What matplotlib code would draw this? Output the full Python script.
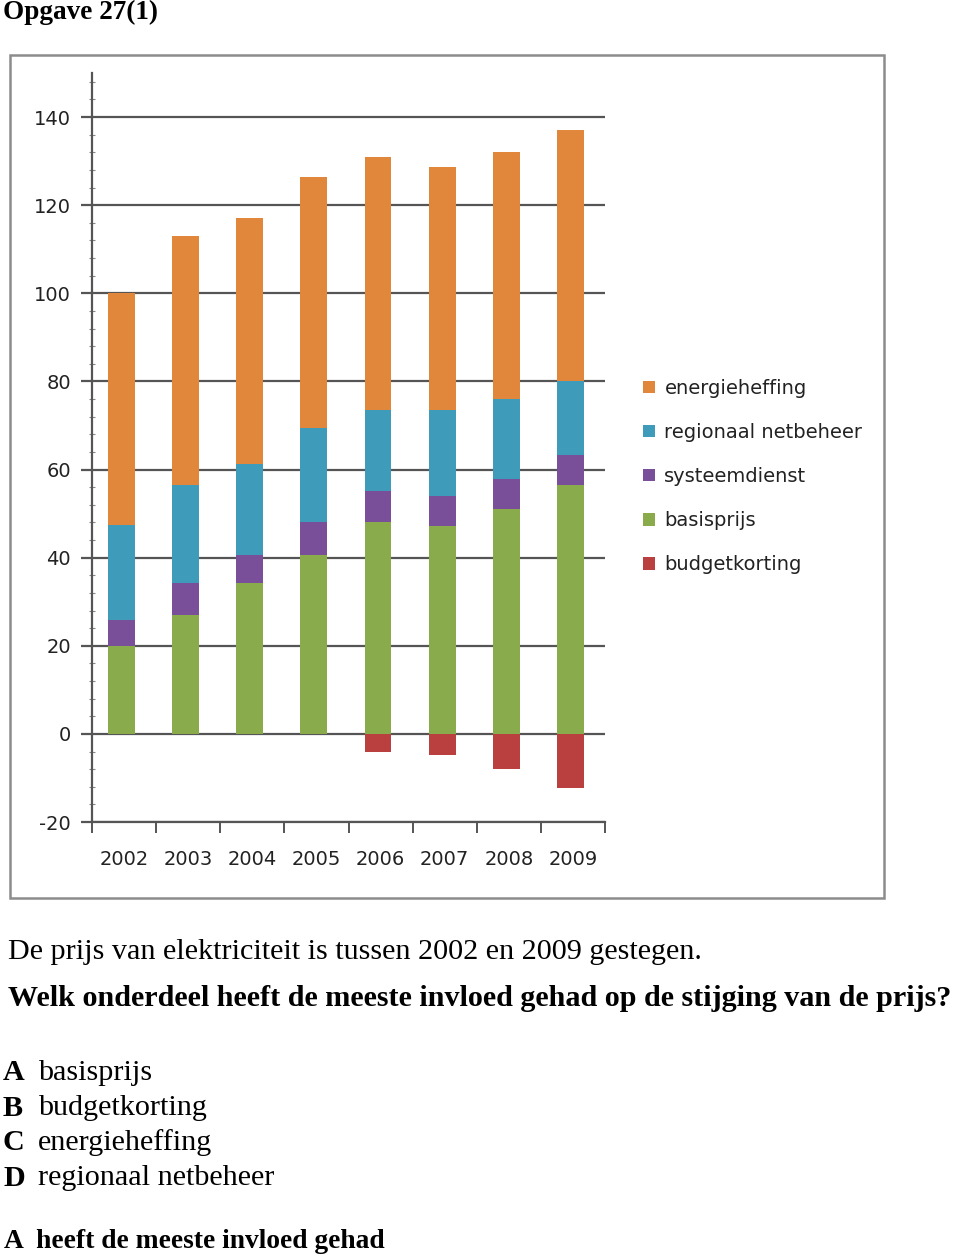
import matplotlib.pyplot as plt
from matplotlib.patches import Rectangle
from matplotlib.ticker import MultipleLocator
import numpy as np

plt.rcParams["axes.unicode_minus"] = False

years = ["2002", "2003", "2004", "2005", "2006", "2007", "2008", "2009"]
basisprijs = [20.0, 27.0, 34.2, 40.6, 48.2, 47.1, 51.0, 56.4]
systeemdienst = [5.9, 7.2, 6.4, 7.6, 7.0, 7.0, 6.9, 6.8]
regionaal = [21.4, 22.2, 20.7, 21.2, 18.4, 19.5, 18.1, 17.0]
energieheffing = [52.7, 56.6, 55.7, 57.0, 57.4, 55.0, 56.0, 56.8]
budgetkorting = [0, 0, 0, 0, -4.1, -4.8, -8.0, -12.2]

colors = {"energieheffing": "#E0873C", "regionaal netbeheer": "#3F9BBA",
          "systeemdienst": "#7A4F99", "basisprijs": "#8AAB4B",
          "budgetkorting": "#B9403F"}

fig = plt.figure(figsize=(9.6, 12.59), dpi=100)
W, H = 960, 1259

# frame round the chart
fig.patches.append(Rectangle((10 / W, 1 - 898 / H), 874 / W, 843 / H,
                             transform=fig.transFigure, fill=False,
                             edgecolor="#8c8c8c", linewidth=1.8))

ax = fig.add_axes([92 / W, 1 - 822 / H, 513 / W, 749 / H])
x = np.arange(len(years))
w = 0.42
bottom = np.zeros(len(years))
series = [("basisprijs", basisprijs), ("systeemdienst", systeemdienst),
          ("regionaal netbeheer", regionaal), ("energieheffing", energieheffing)]
handles = {}
for name, vals in series:
    handles[name] = ax.bar(x - 0.04, vals, w, bottom=bottom, color=colors[name], zorder=3)
    bottom = bottom + np.array(vals)
handles["budgetkorting"] = ax.bar(x - 0.04, budgetkorting, w,
                                  color=colors["budgetkorting"], zorder=3)

ax.set_xlim(-0.5, len(years) - 0.5)
ax.set_ylim(-20, 150)
ax.set_yticks(range(-20, 141, 20))
ax.yaxis.set_minor_locator(MultipleLocator(4))
ax.yaxis.grid(True, which="major", color="#555555", linewidth=1.6, zorder=1)
ax.tick_params(axis="y", which="major", length=8, width=1.6, color="#555555",
               labelsize=14, pad=7, labelcolor="#222222")
ax.tick_params(axis="y", which="minor", length=4, width=0.8, color="#888888",
               direction="inout")

ax.set_xticks(np.arange(-0.5, len(years), 1))
ax.set_xticklabels([])
ax.set_xticks(x, minor=True)
ax.set_xticklabels(years, minor=True)
ax.tick_params(axis="x", which="major", length=8, width=1.4, color="#555555")
ax.tick_params(axis="x", which="minor", length=0, labelsize=14, pad=20,
               labelcolor="#222222")

for s in ["top", "right"]:
    ax.spines[s].set_visible(False)
for s in ["left", "bottom"]:
    ax.spines[s].set_color("#555555")
    ax.spines[s].set_linewidth(1.6)

order = ["energieheffing", "regionaal netbeheer", "systeemdienst", "basisprijs", "budgetkorting"]
fig.legend([handles[n] for n in order], order, loc="upper left",
           bbox_to_anchor=(643 / W, 1 - 379 / H), frameon=False, fontsize=14,
           borderpad=0, borderaxespad=0,
           handlelength=0.6, handleheight=0.6, handletextpad=0.5,
           labelspacing=1.29, labelcolor="#222222")

serif = "Liberation Serif"
fig.text(3 / W, 1 - 12 / H, "Opgave 27(1)", family=serif, weight="bold",
         fontsize=19.6, va="center", ha="left")
fig.text(8 / W, 1 - 952 / H, "De prijs van elektriciteit is tussen 2002 en 2009 gestegen.",
         family=serif, fontsize=21.7, va="center", ha="left")
fig.text(8 / W, 1 - 999 / H,
         "Welk onderdeel heeft de meeste invloed gehad op de stijging van de prijs?",
         family=serif, weight="bold", fontsize=21.7, va="center", ha="left")

options = [("A", "basisprijs"), ("B", "budgetkorting"),
           ("C", "energieheffing"), ("D", "regionaal netbeheer")]
for i, (letter, txt) in enumerate(options):
    yy = 1 - (1073 + 35 * i) / H
    fig.text(3 / W, yy, letter, family=serif, weight="bold", fontsize=21.7,
             va="center", ha="left")
    fig.text(38 / W, yy, txt, family=serif, fontsize=21.7, va="center", ha="left")

fig.text(4 / W, 1 - 1242 / H, "A  heeft de meeste invloed gehad", family=serif,
         weight="bold", fontsize=19.8, va="center", ha="left")

fig.savefig("out.png", dpi=100)
